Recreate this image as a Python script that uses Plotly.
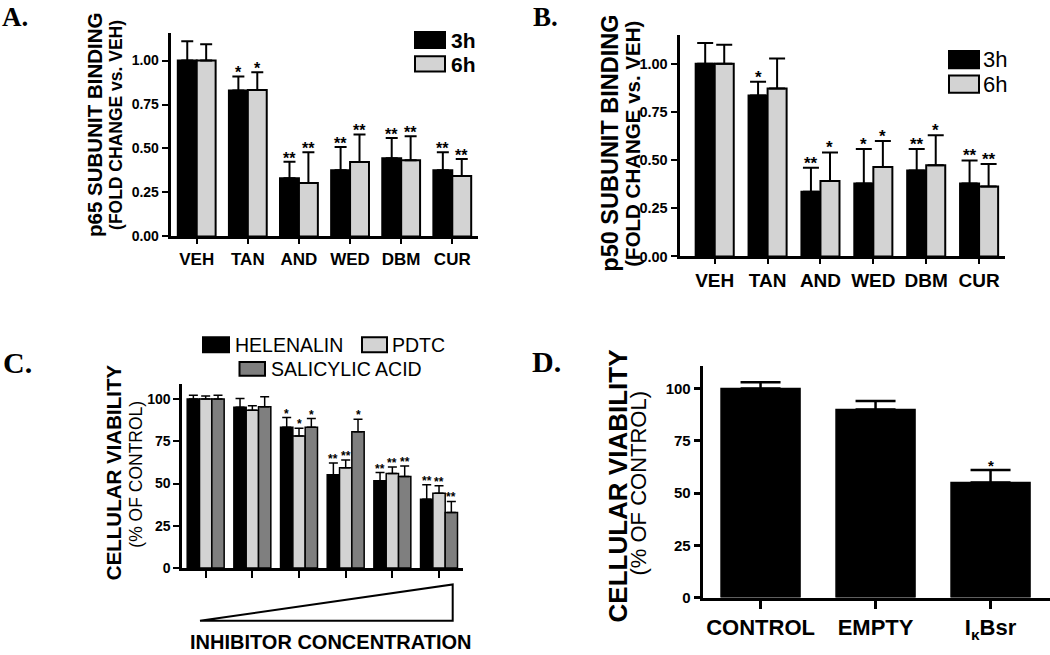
import plotly.graph_objects as go

W, H = 1050, 655
SANS = "Liberation Sans, Arial, sans-serif"
SERIF = "Liberation Serif, Times New Roman, serif"
BLACK = "#000000"
LIGHT = "#d3d3d3"
DARK = "#7f7f7f"

# ---------------- data ----------------
cats_ab = ["VEH", "TAN", "AND", "WED", "DBM", "CUR"]

p65_3h = [1.00, 0.83, 0.33, 0.376, 0.445, 0.376]
p65_3h_err = [0.11, 0.08, 0.095, 0.133, 0.115, 0.103]
p65_3h_sig = ["", "*", "**", "**", "**", "**"]
p65_6h = [1.00, 0.833, 0.303, 0.423, 0.433, 0.343]
p65_6h_err = [0.093, 0.10, 0.176, 0.157, 0.136, 0.097]
p65_6h_sig = ["", "*", "**", "**", "**", "**"]

p50_3h = [1.00, 0.835, 0.336, 0.378, 0.446, 0.378]
p50_3h_err = [0.108, 0.071, 0.124, 0.18, 0.112, 0.12]
p50_3h_sig = ["", "*", "**", "*", "**", "**"]
p50_6h = [1.00, 0.872, 0.392, 0.464, 0.473, 0.363]
p50_6h_err = [0.099, 0.155, 0.148, 0.135, 0.156, 0.117]
p50_6h_sig = ["", "", "*", "*", "*", "**"]

conc_levels = [1, 2, 3, 4, 5, 6]
helenalin = [100, 95.1, 83.4, 55.2, 51.7, 40.7]
helenalin_err = [2.3, 5.3, 5.7, 7.0, 4.8, 8.6]
helenalin_sig = ["", "", "*", "**", "**", "**"]
pdtc = [100, 93.4, 78.2, 59.3, 55.9, 44.2]
pdtc_err = [1.8, 2.7, 4.5, 4.6, 3.9, 4.5]
pdtc_sig = ["", "", "*", "**", "**", "**"]
salicylic = [100, 95.5, 83.4, 80.7, 54.2, 32.9]
salicylic_err = [2.3, 5.9, 5.1, 7.4, 6.2, 6.5]
salicylic_sig = ["", "", "*", "*", "**", "**"]

cats_d = ["CONTROL", "EMPTY", "I<sub>κ</sub>Bsr"]
viab_d = [100, 90, 55]
viab_d_err = [3, 4, 6]
viab_d_sig = ["", "", "*"]


def fx(p):
    return p / W


def fy(p):
    return 1 - p / H


fig = go.Figure()
annotations = []
shapes = []


def add_bars(xa, ya, vals, errs, sigs, offset, width, color, lw, cap, thick, star_size, star_shift):
    xs = list(range(len(vals)))
    fig.add_trace(go.Bar(
        x=xs, y=vals, offset=offset, width=width,
        xaxis=xa, yaxis=ya, showlegend=False,
        marker=dict(color=color, line=dict(color=BLACK, width=lw)),
        error_y=dict(type="data", symmetric=False, array=errs,
                     arrayminus=[0] * len(errs), color=BLACK,
                     thickness=thick, width=cap),
    ))
    for i, s in enumerate(sigs):
        if s:
            annotations.append(dict(
                x=xs[i] + offset + width / 2, y=vals[i] + errs[i],
                xref=xa, yref=ya, text=s, showarrow=False,
                xanchor="center", yanchor="bottom", yshift=star_shift,
                font=dict(family=SANS, size=star_size, color=BLACK, weight="bold"),
            ))


# ---- Panel A ----
wA = 0.37
add_bars("x", "y", p65_3h, p65_3h_err, p65_3h_sig, -wA, wA, BLACK, 2, 6, 2, 16, -7)
add_bars("x", "y", p65_6h, p65_6h_err, p65_6h_sig, 0, wA, LIGHT, 2, 6, 2, 16, -7)
# ---- Panel B ----
wB = 0.36
add_bars("x2", "y2", p50_3h, p50_3h_err, p50_3h_sig, -wB, wB, BLACK, 2, 8, 2, 17, -7)
add_bars("x2", "y2", p50_6h, p50_6h_err, p50_6h_sig, 0, wB, LIGHT, 2, 8, 2, 17, -7)
# ---- Panel C ----
wC = 0.264
add_bars("x3", "y3", helenalin, helenalin_err, helenalin_sig, -1.5 * wC, wC, BLACK, 1.5, 4.5, 1.5, 12, -5)
add_bars("x3", "y3", pdtc, pdtc_err, pdtc_sig, -0.5 * wC, wC, LIGHT, 1.5, 4.5, 1.5, 12, -5)
add_bars("x3", "y3", salicylic, salicylic_err, salicylic_sig, 0.5 * wC, wC, DARK, 1.5, 4.5, 1.5, 12, -5)
# ---- Panel D ----
wD = 0.687
add_bars("x4", "y4", viab_d, viab_d_err, viab_d_sig, -wD / 2, wD, BLACK, 1.5, 20, 2.5, 15, -6)

axis_common = dict(showgrid=False, zeroline=False, showline=True, linecolor=BLACK,
                   ticks="outside", tickcolor=BLACK, fixedrange=True)


def xaxis(dom, rng, ticktext, anchor, lw, tl, tw, fsize, show=True):
    return dict(axis_common, domain=[fx(dom[0]), fx(dom[1])], range=rng, anchor=anchor,
                linewidth=lw, ticklen=tl, tickwidth=tw, showticklabels=show,
                tickvals=list(range(len(ticktext))), ticktext=ticktext,
                tickfont=dict(family=SANS, size=fsize, color=BLACK, weight="bold"))


def yaxis(top, bottom, rng, tickvals, fmt, anchor, lw, tl, tw, fsize):
    return dict(axis_common, domain=[fy(bottom), fy(top)], range=rng, anchor=anchor,
                linewidth=lw, ticklen=tl, tickwidth=tw, tickvals=tickvals, tickformat=fmt,
                tickfont=dict(family=SANS, size=fsize, color=BLACK, weight="bold"))


layout = dict(
    width=W, height=H, autosize=False,
    margin=dict(l=0, r=0, t=0, b=0),
    paper_bgcolor="white", plot_bgcolor="white",
    barmode="overlay", showlegend=False,
    xaxis=xaxis((170.7, 478.3), [-0.509, 5.509], cats_ab, "y", 3, 5, 2, 17),
    yaxis=yaxis(33, 239.3, [0, 1.159], [0, 0.25, 0.5, 0.75, 1.0], ".2f", "x", 3, 6, 2, 14),
    xaxis2=xaxis((679.6, 1005), [-0.664, 5.49], cats_ab, "y2", 3, 5, 2, 19),
    yaxis2=yaxis(35.1, 259.6, [0, 1.151], [0, 0.25, 0.5, 0.75, 1.0], ".2f", "x2", 3, 6, 2, 14.5),
    xaxis3=xaxis((182.3, 463.3), [-0.501, 5.52], [str(c) for c in conc_levels], "y3", 3, 7, 2, 12, show=False),
    yaxis3=yaxis(388.3, 575, [0, 109.2], [0, 25, 50, 75, 100], "d", "x3", 3, 6, 2, 14),
    xaxis4=xaxis((702.7, 1050), [-0.503, 2.517], cats_d, "y4", 3, 8, 2.5, 22),
    yaxis4=yaxis(370.7, 605, [0, 110.7], [0, 25, 50, 75, 100], "d", "x4", 3, 6, 2.5, 15),
)


def text(x, y, s, size, bold=True, angle=0, xanchor="center", family=SANS, yanchor="middle"):
    annotations.append(dict(
        x=fx(x), y=fy(y), xref="paper", yref="paper", text=s, showarrow=False,
        textangle=angle, xanchor=xanchor, yanchor=yanchor,
        font=dict(family=family, size=size, color=BLACK, weight="bold" if bold else "normal"),
    ))


def box(x0, y0, x1, y1, color, lw=2):
    shapes.append(dict(type="rect", xref="paper", yref="paper",
                       x0=fx(x0), x1=fx(x1), y0=fy(y1), y1=fy(y0),
                       fillcolor=color, line=dict(color=BLACK, width=lw)))


# panel labels
text(0, 0, "A.", 27, xanchor="left", family=SERIF, yanchor="top")
text(531, 0, "B.", 27, xanchor="left", family=SERIF, yanchor="top")
text(1, 367, "C.", 30, xanchor="left", family=SERIF)
text(530, 366, "D.", 30, xanchor="left", family=SERIF)

# y titles
text(94.5, 127, "p65 SUBUNIT BINDING", 20.5, angle=-90)
text(116.5, 127, "(FOLD CHANGE vs. VEH)", 17.5, angle=-90)
text(610, 145.5, "p50 SUBUNIT BINDING", 23.5, angle=-90)
text(633, 145.5, "(FOLD CHANGE vs. VEH)", 20.5, angle=-90)
text(113.5, 478.5, "CELLULAR VIABILITY", 20.5, angle=-90)
text(136.5, 480, "(% OF CONTROL)", 17.5, bold=False, angle=-90)
text(618, 492.5, "CELLULAR VIABILITY", 26, angle=-90)
text(638.5, 489, "(% OF CONTROL)", 22, bold=False, angle=-90)

# legend A
box(415, 32.5, 445, 48.5, BLACK)
box(415, 57, 445, 72.5, LIGHT)
text(449, 40.5, "3h", 21, xanchor="left")
text(449, 65, "6h", 21, xanchor="left")
# legend B
box(949, 51.6, 979, 69.1, BLACK)
box(949, 76.5, 979, 94, LIGHT)
text(981, 60.5, "3h", 22, bold=False, xanchor="left")
text(981, 85.5, "6h", 22, bold=False, xanchor="left")
# legend C
box(203, 341.5, 229, 356.5, BLACK)
text(233, 349, "HELENALIN", 19.5, bold=False, xanchor="left")
box(362, 341.5, 387, 356.5, LIGHT)
text(390, 349, "PDTC", 19.5, bold=False, xanchor="left")
box(239.5, 366.5, 265, 380.5, DARK)
text(269, 373.5, "SALICYLIC ACID", 19.5, bold=False, xanchor="left")

# concentration wedge
shapes.append(dict(type="path", xref="paper", yref="paper",
                   path=f"M {fx(200)},{fy(628.5)} L {fx(452.7)},{fy(591.7)} L {fx(452.7)},{fy(628.5)} Z",
                   line=dict(color=BLACK, width=2)))
text(330, 650, "INHIBITOR CONCENTRATION", 20)

layout["annotations"] = annotations
layout["shapes"] = shapes
fig.update_layout(**layout)
fig.write_html(
    "out.html",
    config={"displayModeBar": False},
    post_script="document.body.style.margin='0';document.body.style.padding='0';"
                "document.documentElement.style.overflow='hidden';",
)
